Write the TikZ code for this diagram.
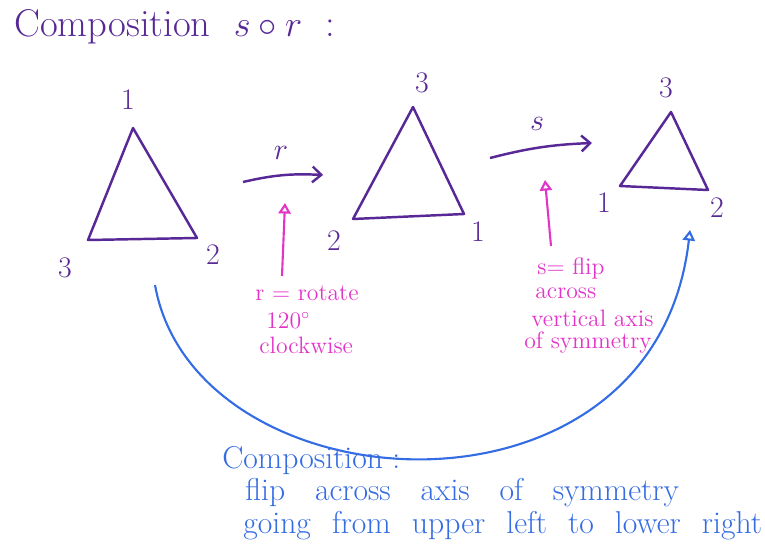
\documentclass[tikz,border=0pt]{standalone}
\usepackage{amsmath}
\usetikzlibrary{calc, positioning, arrows.meta}

\definecolor{penpurple}{RGB}{88,40,150}
\definecolor{penpink}{RGB}{226,52,200}
\definecolor{penblue}{RGB}{52,108,228}

\tikzset{
  tri/.style={draw=penpurple, line width=1.4pt, line join=round},
  vlabel/.style={text=penpurple, font=\fontsize{17}{20}\selectfont},
  notepink/.style={text=penpink, font=\fontsize{13.5}{15}\selectfont, anchor=west, inner sep=0pt},
  noteblue/.style={text=penblue, font=\fontsize{18}{21}\selectfont, anchor=west, inner sep=0pt},
  mapto/.style={draw=penpurple, line width=1.4pt, -{Straight Barb[length=5pt,width=9pt]}},
  pointer/.style={draw=penpink, line width=1.2pt, -{Triangle[open,length=6pt,width=7pt]}},
}

\begin{document}
\begin{tikzpicture}[x=0.02cm, y=-0.02cm]
\useasboundingbox (0,0) rectangle (765,554);

% Title
\node[anchor=west, inner sep=0pt, text=penpurple, font=\fontsize{22}{26}\selectfont] (title) at (14,27) {Composition \ $s\circ r$ \ :};

% Starting triangle
\begin{scope}
\coordinate (a1) at (133,128);
\coordinate (a2) at (197,238);
\coordinate (a3) at (88,240);
\draw[tri] (a1) -- (a2) -- (a3) -- cycle;
\node[vlabel] (la1) at (128,100) {1};
\node[vlabel] (la2) at (213,255) {2};
\node[vlabel] (la3) at (65,268) {3};
\end{scope}

% After r
\begin{scope}
\coordinate (b3) at (413,107);
\coordinate (b1) at (464,214);
\coordinate (b2) at (353,219);
\draw[tri] (b3) -- (b1) -- (b2) -- cycle;
\node[vlabel] (lb3) at (422,83) {3};
\node[vlabel] (lb1) at (478,232) {1};
\node[vlabel] (lb2) at (334,241) {2};
\end{scope}

% After s
\begin{scope}
\coordinate (c3) at (671,112);
\coordinate (c2) at (708,190);
\coordinate (c1) at (620,186);
\draw[tri] (c3) -- (c2) -- (c1) -- cycle;
\node[vlabel] (lc3) at (666,88) {3};
\node[vlabel] (lc2) at (717,208) {2};
\node[vlabel] (lc1) at (604,203) {1};
\end{scope}

% The two maps
\coordinate (r0) at (243,182);
\coordinate (r1) at (323,175);
\draw[mapto] (r0) to[bend left=8] (r1);
\node[vlabel] (rlab) at (281,153) {$r$};
\coordinate (s0) at (490,158);
\coordinate (s1) at (592,143);
\draw[mapto] (s0) to[bend left=6] (s1);
\node[vlabel] (slab) at (537,124) {$s$};

% Notes on r and s
\node[notepink] (rnote) at (255,293) {r = rotate};
\node[notepink] (rdeg) at (266,321) {120$^\circ$};
\node[notepink] (rdir) at (259,345) {clockwise};
\coordinate (rp0) at (282,276);
\coordinate (rp1) at (285,203);
\draw[pointer] (rp0) -- (rp1);

\node[notepink] (snote) at (537,268) {s= flip};
\node[notepink] (sacr) at (535,293) {across};
\node[notepink] (svert) at (531,318) {vertical axis};
\node[notepink] (ssym) at (524,343) {of symmetry};
\coordinate (sp0) at (551,246);
\coordinate (sp1) at (545,180);
\draw[pointer] (sp0) -- (sp1);

% Composition
\coordinate (k0) at (155,285);
\coordinate (k1) at (690,230);
\draw[pointer, draw=penblue] (k0) .. controls (195,510) and (655,540) .. (k1);
\node[noteblue] (comp) at (222,461) {Composition :};
\node[noteblue] (cline1) at (245,493) {\spaceskip=17pt flip across axis of symmetry};
\node[noteblue] (cline2) at (243,526) {\spaceskip=12pt going from upper left to lower right};
\end{tikzpicture}
\end{document}
